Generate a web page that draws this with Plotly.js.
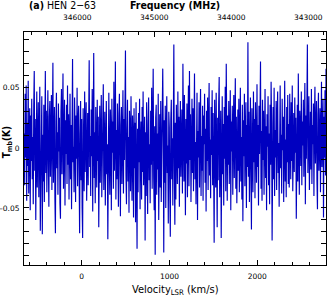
<!DOCTYPE html>
<html>
<head>
<meta charset="utf-8">
<script src="https://cdn.plot.ly/plotly-3.0.1.min.js"></script>
<style>html,body{margin:0;padding:0;background:#fff;}#chart{width:327px;height:300px;}</style>
</head>
<body>
<div id="chart"></div>
<script>
// Spectral axis: first channel velocity and channel width (km/s)
var velocityStart = -655;
var velocityStep = 5.74;

// Antenna temperature Tmb (K) in eight consecutive blocks
var tmbBlock1 = [0.012,-0.031,0.045,-0.008,0.052,-0.044,0.021,-0.015,0.056,-0.038,0.004,0.033,-0.052,0.027,-0.011,0.041,-0.026,0.009,-0.047,0.035,0.064,-0.019,0.024,-0.060,0.015,0.047,-0.033,0.002,0.038,-0.041,0.019,0.051,-0.069,-0.006,0.029,0.043,-0.072,0.011,-0.028,0.036,-0.045,0.007,0.064,-0.021,0.031,-0.037,0.016,0.048,-0.013,-0.049,0.026,0.039,-0.024,0.003,0.044,-0.035,0.018,0.071,-0.029,0.008,0.034,-0.042,-0.071,0.022,0.046,-0.017,0.013,-0.039,0.037,-0.003,0.025,-0.046,-0.059,0.030,0.049];
var tmbBlock2 = [-0.022,0.017,0.062,-0.034,0.009,0.040,-0.048,0.023,-0.005,0.036,-0.030,0.052,-0.014,0.028,-0.043,0.006,0.045,-0.026,0.019,-0.051,0.031,0.074,-0.012,0.001,-0.037,0.042,0.014,-0.045,0.027,-0.009,0.050,-0.032,0.020,0.035,-0.018,-0.071,0.011,0.039,-0.027,0.024,-0.050,-0.075,0.033,0.005,-0.036,0.047,-0.020,0.016,0.038,-0.044,0.002,0.029,-0.031,0.043,0.073,-0.016,0.010,-0.040,0.032,-0.007,0.049,-0.053,0.021,0.079,-0.025,0.013,-0.046,0.034,0.004,-0.033,0.040,-0.011,0.026,-0.066,0.018];
var tmbBlock3 = [0.035,-0.029,0.011,0.044,-0.041,0.020,-0.008,0.053,-0.035,0.007,0.030,-0.048,0.017,0.039,-0.022,0.003,-0.076,0.025,0.046,-0.015,-0.039,0.032,0.012,-0.052,0.041,-0.004,0.022,-0.034,0.055,-0.019,0.008,0.072,-0.043,0.015,-0.026,0.037,0.001,-0.049,0.028,0.045,-0.013,-0.057,0.019,0.034,-0.030,0.006,0.048,-0.038,0.024,-0.010,0.036,0.081,-0.023,-0.047,0.014,0.040,-0.028,0.009,-0.054,0.031,0.018,-0.036,0.043,-0.006,-0.044,0.027,0.010,-0.058,0.033,-0.017,0.021,-0.062,0.038,-0.025,-0.084];
var tmbBlock4 = [0.016,-0.037,0.029,-0.012,0.041,-0.051,0.005,0.022,-0.043,0.034,-0.020,0.047,-0.031,0.010,0.026,-0.077,0.013,-0.040,0.038,-0.008,-0.055,0.020,0.042,-0.027,0.003,-0.046,0.031,-0.014,0.050,-0.034,0.007,0.066,-0.024,-0.052,0.018,-0.089,0.025,0.036,-0.039,0.012,-0.018,0.045,-0.060,0.004,0.028,-0.033,0.039,-0.045,0.015,-0.007,0.066,0.009,-0.087,0.023,-0.029,0.035,-0.050,0.011,0.043,-0.021,0.002,-0.063,0.030,0.017,-0.036,-0.074,0.024,0.040,-0.026,0.008,-0.048,0.033,0.086,-0.015,-0.064];
var tmbBlock5 = [0.021,-0.043,0.036,0.006,-0.030,0.047,-0.017,0.026,-0.049,0.012,0.039,-0.024,-0.004,0.032,-0.038,0.070,0.015,-0.028,0.044,0.001,-0.056,0.024,-0.013,0.037,-0.041,0.018,0.052,-0.032,0.064,-0.010,0.028,-0.045,0.008,0.041,-0.021,0.033,-0.036,0.019,0.062,-0.026,0.005,-0.047,0.030,0.046,-0.060,0.014,-0.008,0.038,-0.033,0.023,0.049,-0.040,0.010,-0.019,0.035,-0.044,0.027,0.003,0.045,-0.029,0.016,-0.053,0.031,-0.011,0.042,-0.035,0.020,0.054,-0.023,0.007,-0.042,0.034,-0.006,0.048,-0.031];
var tmbBlock6 = [0.029,-0.018,-0.079,0.040,0.011,-0.033,0.046,0.002,-0.066,0.025,-0.027,0.037,0.059,-0.041,0.014,0.031,-0.075,0.008,0.043,-0.022,0.020,-0.048,0.034,-0.009,0.051,-0.036,0.070,0.013,-0.044,0.027,-0.014,0.039,-0.030,0.006,0.048,-0.052,0.022,-0.003,0.035,-0.039,0.017,0.044,-0.025,0.010,0.058,-0.034,0.026,-0.046,0.004,0.032,-0.019,0.041,-0.037,0.015,0.050,-0.028,0.009,-0.043,0.036,-0.061,0.023,-0.007,0.045,-0.032,0.012,0.038,-0.050,0.019,-0.016,0.088,-0.024,0.030,-0.045,0.008,0.042];
var tmbBlock7 = [-0.020,-0.068,0.033,0.010,-0.037,0.047,-0.012,0.024,-0.042,0.038,0.003,-0.029,0.053,-0.016,0.019,-0.048,0.035,-0.005,0.027,0.072,-0.034,0.014,-0.044,0.040,-0.010,0.031,-0.039,0.006,0.049,-0.025,0.018,-0.052,0.028,0.001,0.043,-0.031,0.012,-0.047,0.036,-0.014,0.055,0.021,-0.077,0.009,0.034,-0.026,0.050,-0.040,0.015,-0.008,0.039,-0.035,0.024,0.047,-0.021,0.004,-0.049,0.030,0.052,-0.017,0.011,-0.038,0.041,-0.002,0.026,-0.045,0.017,0.056,-0.028,0.007,-0.041,0.034,-0.012,0.044,-0.030];
var tmbBlock8 = [0.020,-0.033,0.045,0.008,-0.026,0.038,-0.011,0.052,-0.036,0.016,0.029,-0.020,0.042,-0.004,0.025,-0.059,0.013,0.036,-0.028,0.062,0.005,-0.039,0.031,0.018,-0.015,0.047,-0.031,0.022,0.002,0.040,-0.024,0.011,0.054,-0.047,0.027,-0.009,0.034,0.086,-0.021,0.015,0.043,-0.035,0.007,0.030,-0.018,0.049,-0.030,0.019,0.003,0.037,-0.040,0.024,0.051,-0.013,0.010,0.039,-0.027,-0.051,0.028,0.046,-0.019,0.006,0.033,-0.037,0.021,0.055,-0.016,0.012,0.041,-0.058,0.026,-0.008,0.048,-0.023,0.066];

// Axis ranges / ticks
var velocityRange = [-657, 2783];
var frequencyRange = [346692, 342770];
var velocityTicks = [0, 1000, 2000];
var frequencyTicks = [346000, 345000, 344000, 343000];
var tmbTicks = [-0.05, 0, 0.05];
var tmbTickLabels = ["\u20130.05", "0", "0.05"];

var tmb = [].concat(tmbBlock1, tmbBlock2, tmbBlock3, tmbBlock4, tmbBlock5, tmbBlock6, tmbBlock7, tmbBlock8);

var traces = [
  {
    type: 'scatter', mode: 'lines',
    x0: velocityStart, dx: velocityStep, y: tmb,
    line: {color: '#0000c0', width: 1.15},
    hoverinfo: 'skip', showlegend: false
  },
  {
    type: 'scatter', mode: 'lines', xaxis: 'x2', yaxis: 'y',
    x: frequencyRange, y: [null, null],
    hoverinfo: 'skip', showlegend: false
  }
];

var tickFont = {family: 'DejaVu Sans', size: 7.5, color: '#000'};
var titleFamily = '"DejaVu Sans Condensed", sans-serif';

var layout = {
  width: 327, height: 300,
  margin: {l: 24, r: 1, t: 32, b: 35, pad: 0},
  paper_bgcolor: '#fff', plot_bgcolor: '#fff',
  showlegend: false,
  xaxis: {
    range: velocityRange, tickvals: velocityTicks,
    ticks: 'inside', ticklen: 5, tickwidth: 1, tickcolor: '#000',
    minor: {dtick: 200, tick0: 0, ticks: 'inside', ticklen: 3, tickcolor: '#000'},
    showline: true, linecolor: '#000', linewidth: 1, mirror: false,
    showgrid: false, zeroline: false,
    tickfont: tickFont, ticklabelstandoff: 4
  },
  xaxis2: {
    overlaying: 'x', side: 'top', anchor: 'y',
    range: frequencyRange, tickvals: frequencyTicks,
    ticks: 'inside', ticklen: 5, tickwidth: 1, tickcolor: '#000',
    minor: {dtick: 200, tick0: 0, ticks: 'inside', ticklen: 3, tickcolor: '#000'},
    showline: true, linecolor: '#000', linewidth: 1,
    showgrid: false, zeroline: false,
    tickfont: tickFont, ticklabelstandoff: 8, tickformat: 'd'
  },
  yaxis: {
    range: [-0.0975, 0.0965], tickvals: tmbTicks, ticktext: tmbTickLabels,
    ticks: 'inside', ticklen: 5, tickwidth: 1, tickcolor: '#000',
    minor: {dtick: 0.01, tick0: 0, ticks: 'inside', ticklen: 3, tickcolor: '#000'},
    showline: true, linecolor: '#000', linewidth: 1, mirror: 'allticks',
    showgrid: false, zeroline: false,
    tickfont: tickFont, ticklabelstandoff: 2
  },
  annotations: [
    {text: '<b>(a)</b> HEN 2\u221263', xref: 'paper', yref: 'paper', x: 0.01, y: 1.116,
     xanchor: 'left', yanchor: 'middle', showarrow: false,
     font: {family: titleFamily, size: 10.5, color: '#000'}},
    {text: '<b>Frequency (MHz)</b>', xref: 'paper', yref: 'paper', x: 0.5, y: 1.116,
     xanchor: 'center', yanchor: 'middle', showarrow: false,
     font: {family: titleFamily, size: 10.5, color: '#000'}},
    {text: 'Velocity<sub>LSR</sub> (km/s)', xref: 'paper', yref: 'paper', x: 0.5, y: -0.108,
     xanchor: 'center', yanchor: 'middle', showarrow: false,
     font: {family: titleFamily, size: 11, color: '#000'}},
    {text: '<b>T<sub>mb</sub>(K)</b>', xref: 'paper', yref: 'paper', x: -0.052, y: 0.528,
     xanchor: 'center', yanchor: 'middle', showarrow: false, textangle: -90,
     font: {family: titleFamily, size: 10, color: '#000'}}
  ]
};

Plotly.newPlot('chart', traces, layout, {displayModeBar: false, staticPlot: true});
</script>
</body>
</html>
